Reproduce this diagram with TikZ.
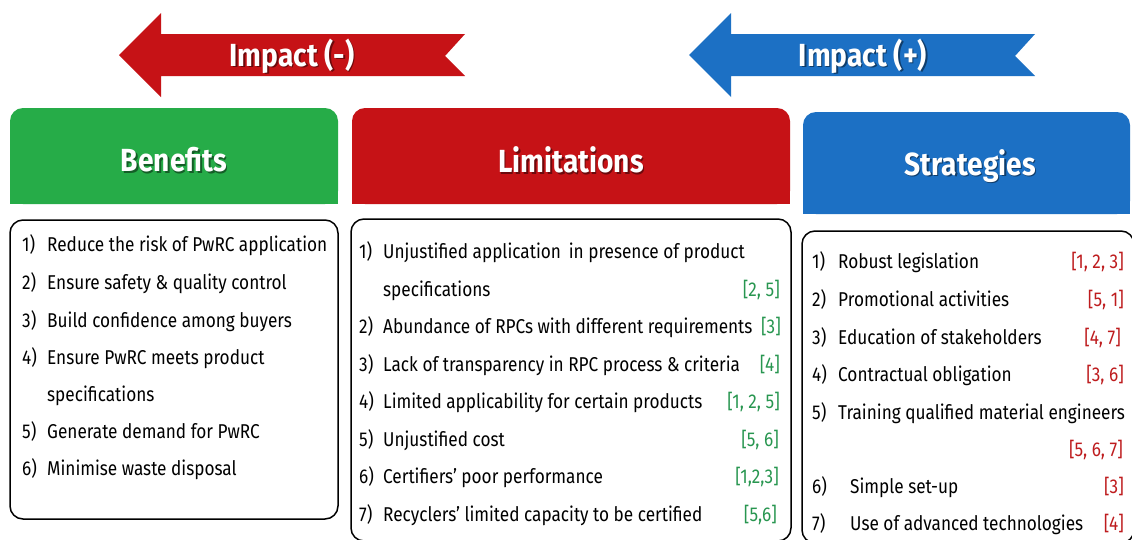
\documentclass[tikz,border=0pt]{standalone}
\usepackage{fontspec}
\setmainfont{Fira Sans}[FakeStretch=0.86]
\newfontfamily\headfont{Fira Sans}[FakeStretch=0.88]
\definecolor{bgreen}{RGB}{38,172,72}
\definecolor{lred}{RGB}{198,18,22}
\definecolor{sblue}{RGB}{28,112,196}
\definecolor{refgreen}{RGB}{40,150,80}
\definecolor{refred}{RGB}{190,28,30}
\begin{document}
\begin{tikzpicture}[x=1pt,y=-1pt,
  item/.style={anchor=base west, inner sep=0pt, font=\fontsize{20}{24}\selectfont},
  gref/.style={anchor=base east, inner sep=0pt, text=refgreen, font=\fontsize{20}{24}\selectfont},
  rref/.style={anchor=base east, inner sep=0pt, text=refred, font=\fontsize{20}{24}\selectfont},
  headtxt/.style={text=white, inner sep=0pt, font=\headfont\bfseries\fontsize{32}{36}\selectfont},
  shadowtxt/.style={text=black, opacity=0.45, inner sep=0pt, font=\headfont\bfseries\fontsize{32}{36}\selectfont},
  headbox/.style={rounded corners=13pt, inner sep=0pt},
  listbox/.style={draw=black, line width=1.5pt, rounded corners=13pt, inner sep=0pt}
]
\clip (0,0) rectangle (1132,539);
\fill[white] (0,0) rectangle (1132,539);

% arrows
\fill[lred] (119,55) -- (161,13) -- (161,34) -- (465,34) -- (445,56) -- (465,76) -- (161,76) -- (161,97) -- cycle;
\node[shadowtxt] at (293.5,57.5) {Impact (-)};
\node[headtxt] (impneg) at (292,56) {Impact (-)};
\fill[sblue] (689,55) -- (731,13) -- (731,34) -- (1035,34) -- (1015,56) -- (1035,76) -- (731,76) -- (731,97) -- cycle;
\node[shadowtxt] at (864.5,57.5) {Impact (+)};
\node[headtxt] (imppos) at (863,56) {Impact (+)};

% headers
\fill[bgreen] (10,150) rectangle (338,204);
\node[headbox, fill=bgreen, minimum width=328pt, minimum height=96pt] (benh) at (174,156) {};
\node[shadowtxt] at (175.5,161.5) {Benefits};
\node[headtxt] at (174,160) {Benefits};

\fill[lred] (352,150) rectangle (790,204);
\node[headbox, fill=lred, minimum width=438pt, minimum height=96pt] (limh) at (571,156) {};
\node[shadowtxt] at (572.5,161.5) {Limitations};
\node[headtxt] at (571,160) {Limitations};

\fill[sblue] (803,160) rectangle (1130,214);
\node[headbox, fill=sblue, minimum width=327pt, minimum height=102pt] (strh) at (966.5,163) {};
\node[shadowtxt] at (971.5,167.5) {Strategies};
\node[headtxt] at (970,166) {Strategies};

% list boxes
\node[listbox, minimum width=328pt, minimum height=299pt] (benb) at (174,369.5) {};
\node[listbox, minimum width=440pt, minimum height=322pt] (limb) at (571,380) {};
\node[listbox, minimum width=332pt, minimum height=312pt] (strb) at (968,387) {};

% Benefits items
\node[item] (b1n) at (22,251) {1)}; \node[item] (b1) at (47,251) {Reduce the risk of PwRC application};
\node[item] (b2n) at (22,289) {2)}; \node[item] (b2) at (47,289) {Ensure safety \& quality control};
\node[item] (b3n) at (22,327) {3)}; \node[item] (b3) at (47,327) {Build confidence among buyers};
\node[item] (b4n) at (22,364) {4)}; \node[item] (b4) at (47,364) {Ensure PwRC meets product};
\node[item] (b4b) at (47,401) {specifications};
\node[item] (b5n) at (22,438) {5)}; \node[item] (b5) at (47,438) {Generate demand for PwRC};
\node[item] (b6n) at (22,475) {6)}; \node[item] (b6) at (47,475) {Minimise waste disposal};

% Limitations items
\node[item] (l1n) at (359,258) {1)}; \node[item] (l1) at (383,258) {Unjustified application\, in presence of product};
\node[item] (l1b) at (383,296) {specifications}; \node[gref] (l1r) at (780,296) {[2, 5]};
\node[item] (l2n) at (359,333) {2)}; \node[item] (l2) at (383,333) {Abundance of RPCs with different requirements}; \node[gref] (l2r) at (781,333) {[3]};
\node[item] (l3n) at (359,371) {3)}; \node[item] (l3) at (383,371) {Lack of transparency in RPC process \& criteria}; \node[gref] (l3r) at (780,371) {[4]};
\node[item] (l4n) at (359,408) {4)}; \node[item] (l4) at (383,408) {Limited applicability for certain products}; \node[gref] (l4r) at (780,408) {[1, 2, 5]};
\node[item] (l5n) at (359,446) {5)}; \node[item] (l5) at (383,446) {Unjustified cost}; \node[gref] (l5r) at (779,446) {[5, 6]};
\node[item] (l6n) at (359,483) {6)}; \node[item] (l6) at (383,483) {Certifiers’ poor performance}; \node[gref] (l6r) at (779,483) {[1,2,3]};
\node[item] (l7n) at (359,521) {7)}; \node[item] (l7) at (383,521) {Recyclers’ limited capacity to be certified}; \node[gref] (l7r) at (777,521) {[5,6]};

% Strategies items
\node[item] (s1n) at (812,268) {1)}; \node[item] (s1) at (838,268) {Robust legislation}; \node[rref] (s1r) at (1124,268) {[1, 2, 3]};
\node[item] (s2n) at (812,306) {2)}; \node[item] (s2) at (838,306) {Promotional activities}; \node[rref] (s2r) at (1124,306) {[5, 1]};
\node[item] (s3n) at (812,344) {3)}; \node[item] (s3) at (838,344) {Education of stakeholders}; \node[rref] (s3r) at (1121,344) {[4, 7]};
\node[item] (s4n) at (812,381) {4)}; \node[item] (s4) at (838,381) {Contractual obligation}; \node[rref] (s4r) at (1124,381) {[3, 6]};
\node[item] (s5n) at (812,419) {5)}; \node[item] (s5) at (838,419) {Training qualified material engineers};
\node[rref] (s5r) at (1123,456) {[5, 6, 7]};
\node[item] (s6n) at (812,493) {6)}; \node[item] (s6) at (850,493) {Simple set-up}; \node[rref] (s6r) at (1124,493) {[3]};
\node[item] (s7n) at (812,530) {7)}; \node[item] (s7) at (850,530) {Use of advanced technologies}; \node[rref] (s7r) at (1124,530) {[4]};
\end{tikzpicture}
\end{document}
